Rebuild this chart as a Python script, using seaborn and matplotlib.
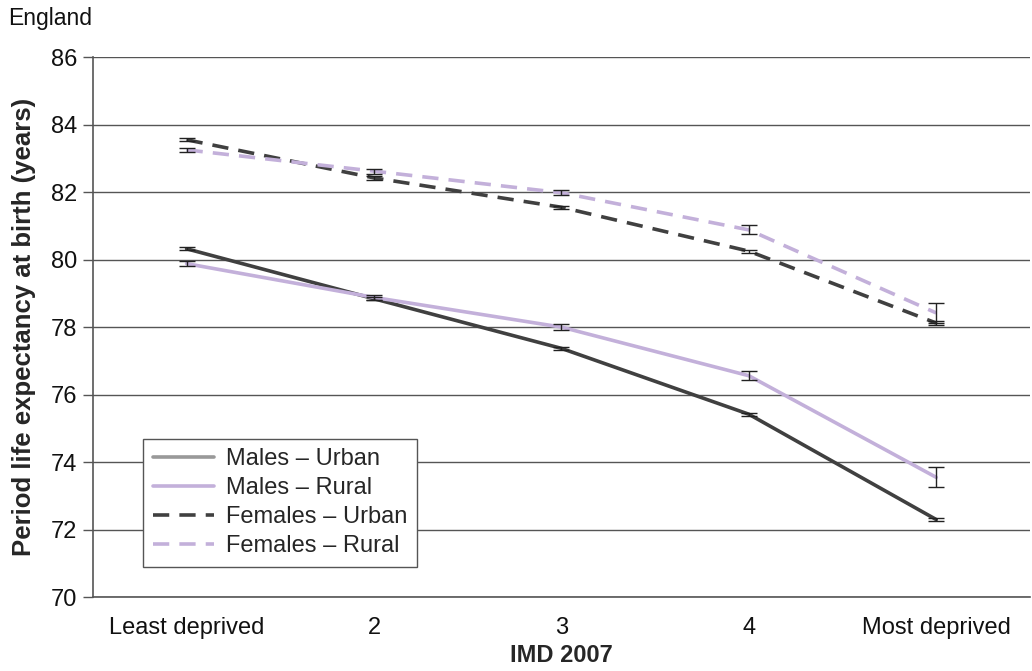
import numpy as np
import pandas as pd
import matplotlib
matplotlib.use("Agg")
import matplotlib.pyplot as plt
import seaborn as sns

categories = ["Least deprived", "2", "3", "4", "Most deprived"]

males_urban = [80.32, 78.84, 77.37, 75.42, 72.30]
males_rural = [79.88, 78.88, 78.00, 76.56, 73.55]
females_urban = [83.55, 82.42, 81.55, 80.25, 78.12]
females_rural = [83.25, 82.62, 81.98, 80.88, 78.42]

males_urban_ci = [0.05, 0.05, 0.04, 0.05, 0.05]
males_rural_ci = [0.07, 0.07, 0.08, 0.13, 0.30]
females_urban_ci = [0.05, 0.05, 0.04, 0.04, 0.05]
females_rural_ci = [0.07, 0.07, 0.07, 0.13, 0.30]

series_names = ["Males \u2013 Urban", "Males \u2013 Rural",
                "Females \u2013 Urban", "Females \u2013 Rural"]
series_vals = [males_urban, males_rural, females_urban, females_rural]
series_ci = [males_urban_ci, males_rural_ci, females_urban_ci, females_rural_ci]

dark = "#404040"
lilac = "#c3b0da"
palette = {series_names[0]: dark, series_names[1]: lilac,
           series_names[2]: dark, series_names[3]: lilac}
dashes = {series_names[0]: "", series_names[1]: "",
          series_names[2]: (4.5, 2.8), series_names[3]: (4.5, 2.8)}

rows = []
for name, vals in zip(series_names, series_vals):
    for i, v in enumerate(vals):
        rows.append({"pos": i, "value": v, "series": name})
df = pd.DataFrame(rows)

sns.set_theme(style="white")
plt.rcParams["font.family"] = ["Liberation Sans", "DejaVu Sans"]

fs = 17
fig = plt.figure(figsize=(10.32, 6.71), dpi=100)
ax = fig.add_axes([0.090, 0.110, 0.908, 0.805])

sns.lineplot(data=df, x="pos", y="value", hue="series", style="series",
             palette=palette, dashes=dashes, hue_order=series_names,
             style_order=series_names, linewidth=2.6, ax=ax, zorder=3)

for vals, ci in zip(series_vals, series_ci):
    ax.errorbar(range(len(vals)), vals, yerr=ci, fmt="none",
                ecolor="#222222", elinewidth=1.0, capsize=6, capthick=1.0,
                zorder=4)

ax.set_xlim(-0.5, 4.5)
ax.set_ylim(70, 86)
ax.set_yticks(np.arange(70, 87, 2))
ax.set_xticks(range(len(categories)))
ax.set_xticklabels(categories)
ax.set_xticks(np.arange(-0.5, 4.6, 1.0), minor=True)
ax.tick_params(axis="x", which="major", length=0, pad=14, labelsize=fs,
               colors="#111111")
ax.tick_params(axis="x", which="minor", length=7, width=1, color="#555555",
               direction="out")
ax.tick_params(axis="y", which="major", length=7, width=1, color="#555555",
               direction="out", left=True, pad=4, labelsize=fs,
               colors="#111111")
ax.yaxis.grid(True, color="#555555", linewidth=1.0)
ax.set_axisbelow(True)
for side in ["top", "right"]:
    ax.spines[side].set_visible(False)
for side in ["left", "bottom"]:
    ax.spines[side].set_color("#555555")
    ax.spines[side].set_linewidth(1.2)

ax.set_xlabel("IMD 2007", fontsize=fs, fontweight="bold", labelpad=4)
ax.set_ylabel("Period life expectancy at birth (years)", fontsize=18.5,
              fontweight="bold", labelpad=11)
fig.text(0.008, 0.973, "England", fontsize=16.5, ha="left", va="center",
         color="#111111")

handles, labels = ax.get_legend_handles_labels()
leg = ax.legend(handles, labels, loc="lower left",
                bbox_to_anchor=(0.054, 0.056), borderaxespad=0,
                fontsize=fs, frameon=True,
                fancybox=False, edgecolor="#555555", handlelength=2.6,
                borderpad=0.4, labelspacing=0.3, handletextpad=0.5)
leg.get_frame().set_linewidth(1.0)
leg.get_frame().set_facecolor("white")
leg.get_frame().set_alpha(1.0)
leg.get_lines()[0].set_color("#999999")

fig.savefig("out.png", dpi=100, facecolor="white")
